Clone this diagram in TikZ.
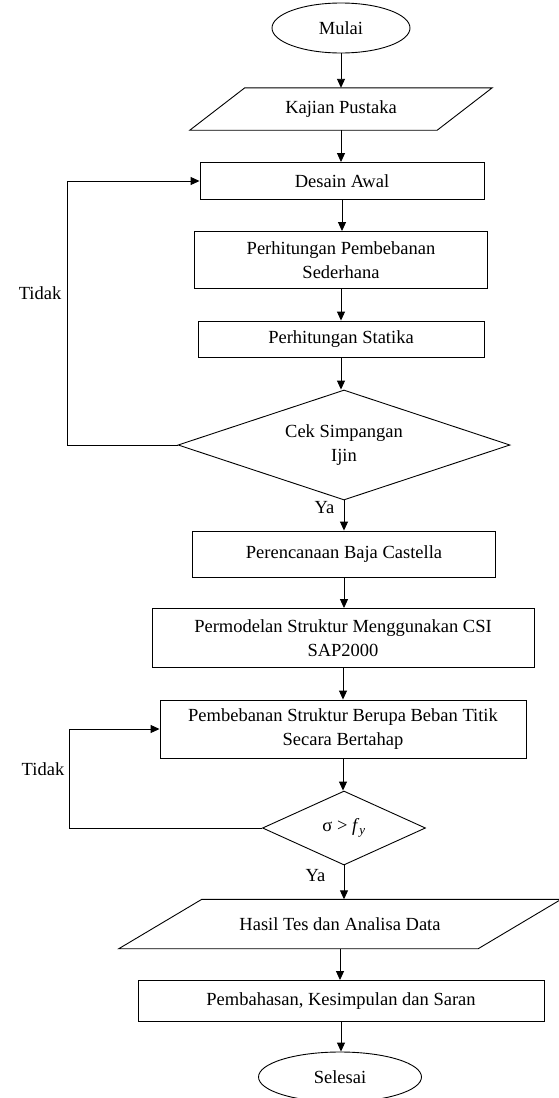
\documentclass[tikz,border=0pt]{standalone}
\usepackage{fontspec}
\setmainfont{Liberation Serif}
\usetikzlibrary{shapes.geometric,arrows.meta,calc}
\begin{document}
\begin{tikzpicture}[x=1pt,y=-1pt,
  every node/.style={font=\fontsize{18.5}{24}\selectfont, inner sep=0pt, align=center},
  box/.style={draw, line width=0.9pt, rectangle},
  oval/.style={draw, line width=0.9pt, ellipse},
  para/.style={rectangle},
  dec/.style={draw, line width=0.9pt, diamond, shape aspect=3},
  lbl/.style={},
  arr/.style={draw, line width=0.9pt, -{Triangle[length=9pt,width=8pt]}},
  ln/.style={line width=0.9pt}]
\useasboundingbox (0,0) rectangle (558,1098);

\node[oval, minimum width=138pt, minimum height=50pt] (mulai) at (341,28) {Mulai};
\node[para, minimum width=302pt, minimum height=42pt] (kajian) at (341,109) {Kajian Pustaka};
\draw[ln] ([xshift=55pt]kajian.north west) -- (kajian.north east) -- ([xshift=-55pt]kajian.south east) -- (kajian.south west) -- cycle;
\node[box, minimum width=284pt, minimum height=37pt] (desain) at (342,181) {Desain Awal};
\node[box, minimum width=293pt, minimum height=57pt] (pp) at (341,260) {Perhitungan Pembebanan\\Sederhana};
\node[box, minimum width=286pt, minimum height=36pt] (ps) at (341,339) {Perhitungan Statika};
\node[dec, minimum width=332pt, minimum height=110pt] (cek) at (344,445) {Cek Simpangan\\Ijin};
\node[box, minimum width=303pt, minimum height=46pt] (pbc) at (344,554) {Perencanaan Baja Castella};
\node[box, minimum width=382pt, minimum height=59pt] (pm) at (343,638) {Permodelan Struktur Menggunakan CSI\\SAP2000};
\node[box, minimum width=366pt, minimum height=58pt] (pbs) at (343,729) {Pembebanan Struktur Berupa Beban Titik\\Secara Bertahap};
\node[dec, shape aspect=2, minimum width=163pt, minimum height=74pt] (sig) at (344,828) {σ > \textit{f}\textsubscript{\textit{y}}};
\node[para, minimum width=442pt, minimum height=49pt] (hasil) at (340,924) {Hasil Tes dan Analisa Data};
\draw[ln] ([xshift=83pt]hasil.north west) -- (hasil.north east) -- ([xshift=-83pt]hasil.south east) -- (hasil.south west) -- cycle;
\node[box, minimum width=406pt, minimum height=41pt] (pks) at (341,1001) {Pembahasan, Kesimpulan dan Saran};
\node[oval, minimum width=163pt, minimum height=50pt] (selesai) at (340,1077) {Selesai};

\node[lbl] (tidak1) at (40,293) {Tidak};
\node[lbl] (tidak2) at (43,769) {Tidak};
\node[lbl] (ya1) at (324.5,508) {Ya};
\node[lbl] (ya2) at (315.5,876) {Ya};

\coordinate (c1) at (67,0);
\coordinate (c2) at (69,0);

\draw[arr] (mulai.south) -- (mulai.south |- kajian.north);
\draw[arr] (kajian.south) -- (kajian.south |- desain.north);
\draw[arr] (desain.south) -- (desain.south |- pp.north);
\draw[arr] (pp.south) -- (pp.south |- ps.north);
\draw[arr] (ps.south) -- (ps.south |- cek.north);
\draw[arr] (cek.south) -- (cek.south |- pbc.north);
\draw[arr] (pbc.south) -- (pbc.south |- pm.north);
\draw[arr] (pm.south) -- (pm.south |- pbs.north);
\draw[arr] (pbs.south) -- (pbs.south |- sig.north);
\draw[arr] (sig.south) -- (sig.south |- hasil.north);
\draw[arr] (hasil.south) -- (hasil.south |- pks.north);
\draw[arr] (pks.south) -- (pks.south |- selesai.north);

\draw[arr] (cek.west) -- (cek.west -| c1) |- (desain.west);
\draw[arr] (sig.west) -- (sig.west -| c2) |- (pbs.west);
\end{tikzpicture}
\end{document}
